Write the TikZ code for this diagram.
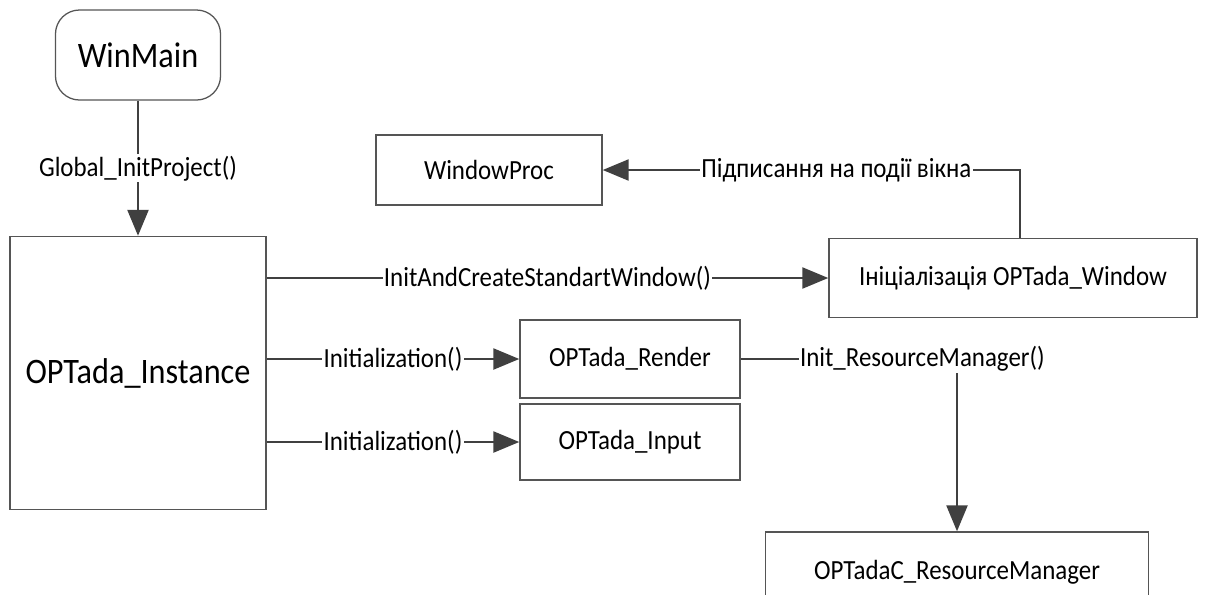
\documentclass[tikz,border=0pt]{standalone}
\usepackage{fontspec}
\setmainfont{Carlito}[FakeStretch=0.9]
\usetikzlibrary{arrows.meta}

\definecolor{linegray}{HTML}{404040}
\definecolor{boxgray}{HTML}{555555}

\begin{document}
\begin{tikzpicture}[
    x=0.025cm, y=-0.025cm,
    block/.style={draw=boxgray, line width=0.9pt, rectangle, align=center, font=\fontsize{19.7}{22}\selectfont},
    bigblock/.style={block, font=\fontsize{25.5}{28}\selectfont},
    lbl/.style={fill=white, inner sep=1pt, font=\fontsize{19.7}{22}\selectfont},
    arrow/.style={-{Triangle[length=6.5mm,width=5.2mm]}, line width=2.1pt, draw=linegray}
    ]
    \useasboundingbox (0,0) rectangle (1205,594);

    \node[bigblock, rounded corners=0.6cm, minimum width=4.125cm, minimum height=2.25cm] (winmain) at (138,55) {WinMain};

    \node[bigblock, minimum width=6.4cm, minimum height=6.825cm] (instance) at (138,373) {OPTada\_Instance};

    \node[block, minimum width=5.65cm, minimum height=1.75cm] (winproc) at (489,170) {WindowProc};

    \node[block, minimum width=9.2cm, minimum height=1.975cm] (window) at (1013,278) {Ініціалізація OPTada\_Window};

    \node[block, minimum width=5.5cm, minimum height=1.95cm] (render) at (630,359) {OPTada\_Render};

    \node[block, minimum width=5.5cm, minimum height=1.9cm] (input) at (630,442) {OPTada\_Input};

    \node[block, minimum width=9.575cm, minimum height=2cm] (resman) at (957,572) {OPTadaC\_ResourceManager};

    \draw[arrow] (winmain) -- node[lbl] {Global\_InitProject()} (instance);
    \draw[arrow] (instance.east |- window.west) -- node[lbl] {InitAndCreateStandartWindow()} (window.west);
    \draw[arrow] ([xshift=0.175cm]window.north) |- node[lbl, pos=0.72] {Підписання на події вікна} (winproc.east);
    \draw[arrow] (instance.east |- render.west) -- node[lbl] {Initialization()} (render.west);
    \draw[arrow] (instance.east |- input.west) -- node[lbl] {Initialization()} (input.west);
    \draw[arrow] (render.east) -| node[lbl, pos=0.42] {Init\_ResourceManager()} (resman.north);

\end{tikzpicture}
\end{document}
